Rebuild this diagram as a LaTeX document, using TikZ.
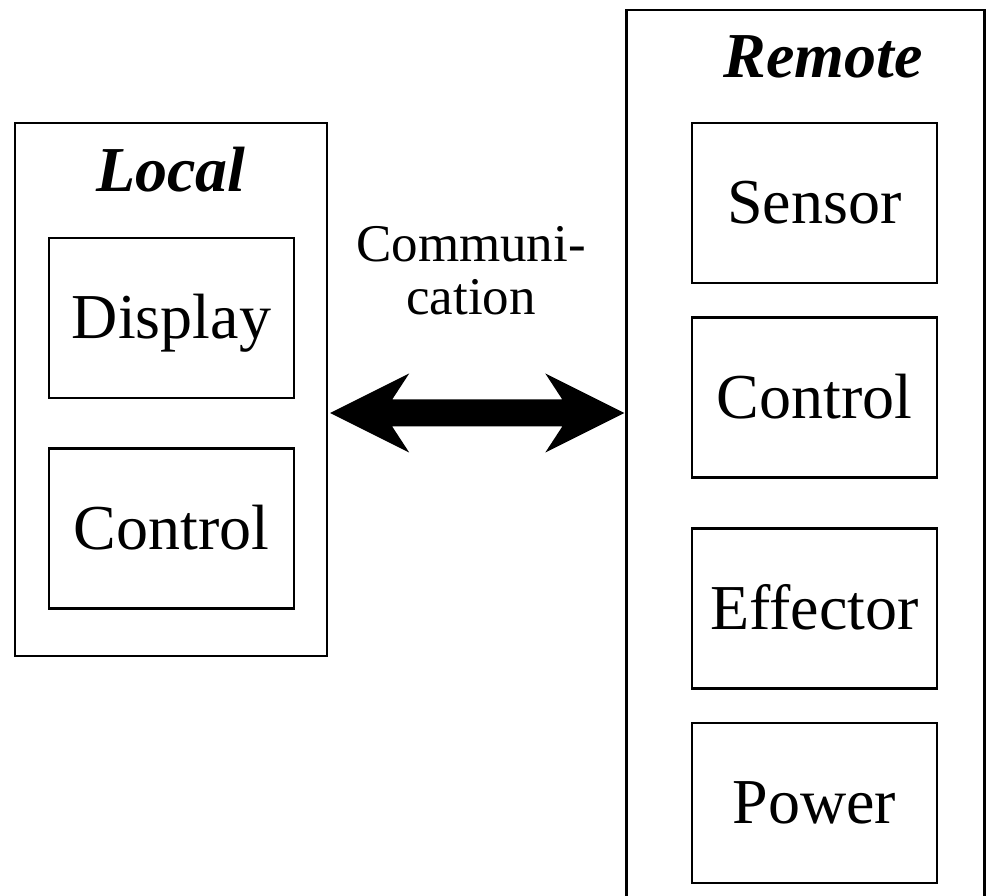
\documentclass[tikz,border=0pt]{standalone}
\usepackage{fontspec}
\setmainfont{Liberation Serif}
\usetikzlibrary{calc}
\begin{document}
\begin{tikzpicture}[x=1pt,y=1pt,
  frame/.style={draw, line width=2.4pt},
  part/.style={draw, line width=2.4pt, minimum width=245pt, minimum height=160pt,
    inner sep=0pt, text height=42pt, text depth=0pt, font=\fontsize{64}{70}\selectfont},
  title/.style={anchor=base, font=\fontsize{64}{70}\selectfont\bfseries\itshape}]
  \useasboundingbox (0,0) rectangle (986,895);
  \clip (0,0) rectangle (986,895);

  % outer containers
  \node[frame, minimum width=312pt, minimum height=533pt, inner sep=0pt] (local) at (171,505.5) {};
  \node[frame, minimum width=358pt, minimum height=905pt, inner sep=0pt] (remote) at (805.5,432.5) {};

  \node[title] (localtitle) at (171,703) {Local};
  \node[title] (remotetitle) at (823,817) {Remote};

  % local parts
  \node[part] (display) at (171.5,577) {Display};
  \node[part] (lcontrol) at (171.5,366.5) {Control};

  % remote parts
  \node[part] (sensor) at (814.5,692) {Sensor};
  \node[part] (rcontrol) at (814.5,497.5) {Control};
  \node[part] (effector) at (814.5,286.5) {Effector};
  \node[part] (power) at (814.5,92) {Power};

  % communication link
  \node[align=center, font=\fontsize{53}{53}\selectfont, anchor=base] (comm) at (471,580) {Communi-\\cation};
  \coordinate (aL) at ([xshift=2pt]local.east |- 0,482);
  \coordinate (aR) at ([xshift=-1pt]remote.west |- 0,482);
  \fill (aL) -- ++(79,39.5) -- ++(-17,-26) -- ($(aR)+(-62,13.5)$) -- ++(-17,26)
        -- (aR) -- ++(-79,-39.5) -- ++(17,26) -- ($(aL)+(62,-13.5)$) -- ++(17,-26) -- cycle;
\end{tikzpicture}
\end{document}
